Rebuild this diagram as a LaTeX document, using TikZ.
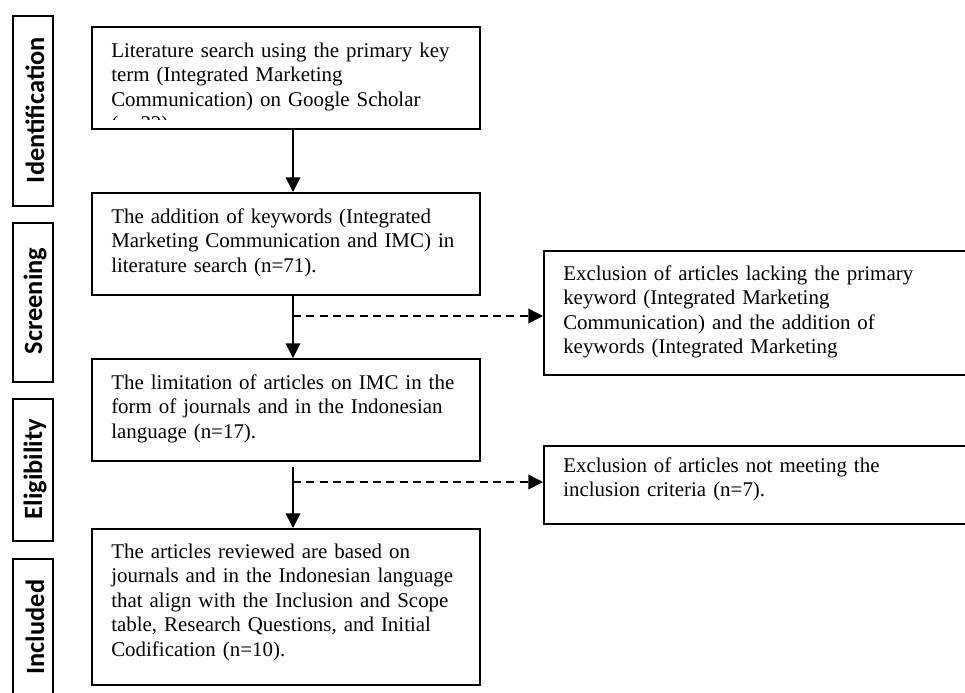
\documentclass[tikz,border=0pt]{standalone}
\usepackage{fontspec}
\setmainfont{Liberation Serif}
\newfontfamily\stagefont{Carlito}
\usetikzlibrary{arrows.meta}

\tikzset{
  frame/.style={draw, line width=1.4pt, anchor=north west, inner sep=0pt},
  box/.style={frame, minimum width=291pt},
  exbox/.style={frame, minimum width=340pt},
  stage/.style={frame, minimum width=30pt},
  txt/.style={anchor=base west, inner sep=0pt, text width=280pt, align=left,
    font=\fontsize{15.7pt}{18.4pt}\selectfont},
  stagetxt/.style={rotate=90, inner sep=0pt,
    font=\stagefont\bfseries\fontsize{19.8pt}{22pt}\selectfont},
  flow/.style={line width=1.2pt, -{Triangle[length=11pt,width=11pt]}},
  skip/.style={flow, dash pattern=on 6pt off 4pt}
}

\begin{document}
\begin{tikzpicture}[x=0.75pt,y=-0.75pt]
\clip (0,0) rectangle (965,693);
% stages
\node[stage, minimum height=142.5pt] (idst) at (12,15) {};
\node[stage, minimum height=119.25pt] (scst) at (12,222) {};
\node[stage, minimum height=106.5pt] (elst) at (12,398) {};
\node[stage, minimum height=120pt] (inst) at (12,558) {};
\node[stagetxt] (idlab) at (35,110) {Identification};
\node[stagetxt] (sclab) at (35,301) {Screening};
\node[stagetxt] (ellab) at (35,469) {Eligibility};
\node[stagetxt] (inlab) at (35,627) {Included};
% main column
\begin{scope}
\clip (91,26) rectangle (479,119);
\node[txt] (idt) at (111,57) {Literature search using the primary key\\
term (Integrated Marketing\\
Communication) on Google Scholar\\
(n=33)};
\end{scope}
\node[box, minimum height=76.5pt] (idbox) at (91,26) {};
\node[box, minimum height=76.5pt] (scbox) at (91,192) {};
\node[txt] (sct) at (111,223) {The addition of keywords (Integrated\\
Marketing Communication and IMC) in\\
literature search (n=71).};
\node[box, minimum height=76.5pt] (elbox) at (91,358) {};
\node[txt] (elt) at (111,389) {The limitation of articles on IMC in the\\
form of journals and in the Indonesian\\
language (n=17).};
\node[box, minimum height=117pt] (inbox) at (91,528) {};
\node[txt] (int) at (111,558) {The articles reviewed are based on\\
journals and in the Indonesian language\\
that align with the Inclusion and Scope\\
table, Research Questions, and Initial\\
Codification (n=10).};
% exclusions
\node[exbox, minimum height=93pt] (exA) at (543,250) {};
\node[txt] (exAt) at (563,280) {Exclusion of articles lacking the primary\\
keyword (Integrated Marketing\\
Communication) and the addition of\\
keywords (Integrated Marketing};
\node[exbox, minimum height=58.5pt] (exB) at (543,445) {};
\node[txt] (exBt) at (563,472) {Exclusion of articles not meeting the\\
inclusion criteria (n=7).};
% arrows
\coordinate (spine) at (293,0);
\coordinate (br1) at (293,316);
\coordinate (br2) at (293,482);
\draw[flow] (idbox.south -| spine) -- (scbox.north -| spine);
\draw[flow] (scbox.south -| spine) -- (elbox.north -| spine);
\draw[flow] ([yshift=-3.75pt]elbox.south -| spine) -- (inbox.north -| spine);
\draw[skip] (br1) -- (br1 -| exA.west);
\draw[skip] (br2) -- (br2 -| exB.west);
\end{tikzpicture}
\end{document}
